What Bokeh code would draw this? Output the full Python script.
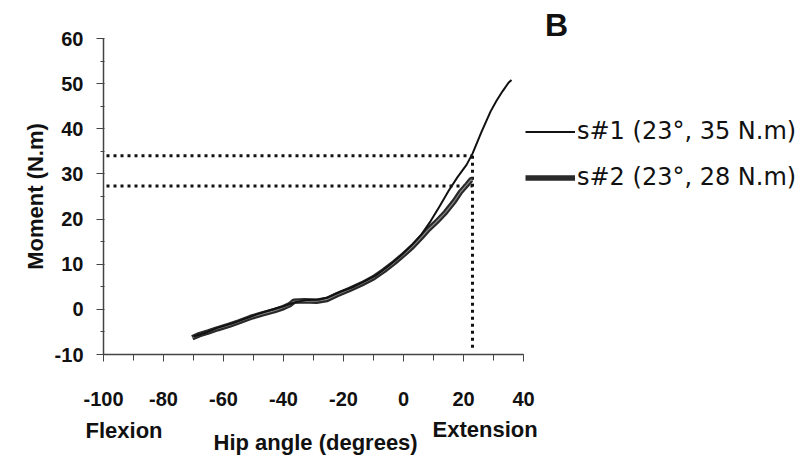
from bokeh.plotting import figure
from bokeh.models import (Range1d, SingleIntervalTicker, Label, Legend, LegendItem, LinearAxis,
                          PrintfTickFormatter)
from bokeh.embed import file_html
from bokeh.resources import INLINE

# ---- data ----
s1_angle = [-70, -66, -62, -57, -52, -48, -44, -40, -36, -32, -28, -25, -21, -17,
            -13, -9, -5, -1, 3, 6, 9, 12, 15, 18, 21, 23, 26, 29, 31, 33, 35, 36]
s1_moment = [-6.0, -5.2, -4.1, -3.1, -1.9, -0.9, -0.1, 0.7, 1.6, 2.1, 2.2, 2.7, 3.9, 4.9,
             6.2, 7.6, 9.6, 11.8, 14.4, 16.6, 19.5, 22.8, 26.2, 29.3, 32.0, 34.5, 39.3,
             43.8, 46.2, 48.3, 50.2, 50.8]

s2_angle = [-70.4, -68, -65, -62, -58, -55, -51, -47, -43, -40, -38, -36.5, -33, -29,
            -25.5, -22, -18, -14, -10, -6.5, -3, 0, 3, 6, 8, 11, 14, 17, 19, 21, 22.5, 23]
s2_moment = [-6.3, -5.6, -5.0, -4.3, -3.5, -2.8, -1.8, -1.0, -0.3, 0.4, 1.0, 1.8, 1.9, 1.8,
             2.2, 3.3, 4.4, 5.6, 7.0, 8.6, 10.4, 12.1, 13.9, 16.0, 17.5, 19.4, 21.5, 24.0,
             26.0, 27.5, 28.7, 28.5]

crit_angle = 23
crit_moments = [34, 27.3]
series_labels = ["s#1 (23°, 35 N.m)", "s#2 (23°, 28 N.m)"]

x_ticks_range = (-100, 40)
y_ticks_range = (-10, 60)

# ---- figure: the frame fills the whole canvas, axes are pinned in data space ----
W, H = 809, 465
AX_LEFT_PX, AX_TOP_PX = 103, 38           # where x=-100 / y=60 sit on the canvas
px_per_x = 3.0
px_per_y = 316.0 / 70.0
x0 = x_ticks_range[0] - AX_LEFT_PX / px_per_x
x1 = x0 + W / px_per_x
y1 = y_ticks_range[1] + AX_TOP_PX / px_per_y
y0 = y1 - H / px_per_y

p = figure(width=W, height=H, output_backend="svg", toolbar_location=None,
           x_range=Range1d(x0, x1), y_range=Range1d(y0, y1),
           x_axis_location=None, y_axis_location=None,
           min_border=0, min_border_left=0, min_border_right=0,
           min_border_top=0, min_border_bottom=0)
p.outline_line_color = None
p.grid.visible = False
p.background_fill_color = "white"
p.border_fill_color = "white"

tick_font = "Liberation Sans"
ink = "#111111"
axis_ink = "#444444"

xa = LinearAxis(fixed_location=y_ticks_range[0], bounds=x_ticks_range)
xa.ticker = SingleIntervalTicker(interval=20, num_minor_ticks=2)
xa.formatter = PrintfTickFormatter(format="%d")
xa.major_tick_in = 0
xa.major_tick_out = 7
xa.minor_tick_in = 0
xa.minor_tick_out = 6
xa.axis_line_color = axis_ink
xa.axis_line_width = 1.5
xa.major_tick_line_color = axis_ink
xa.minor_tick_line_color = axis_ink
xa.major_label_text_font = tick_font
xa.major_label_text_font_style = "bold"
xa.major_label_text_font_size = "20px"
xa.major_label_text_color = ink
xa.major_label_standoff = 30
p.add_layout(xa, "below")

ya = LinearAxis(fixed_location=x_ticks_range[0], bounds=y_ticks_range)
ya.ticker = SingleIntervalTicker(interval=10, num_minor_ticks=2)
ya.formatter = PrintfTickFormatter(format="%d")
ya.major_tick_in = 0
ya.major_tick_out = 7
ya.minor_tick_in = 1
ya.minor_tick_out = 3
ya.axis_line_color = axis_ink
ya.axis_line_width = 1.5
ya.major_tick_line_color = axis_ink
ya.minor_tick_line_color = axis_ink
ya.major_label_text_font = tick_font
ya.major_label_text_font_style = "bold"
ya.major_label_text_font_size = "20px"
ya.major_label_text_color = ink
ya.major_label_standoff = 13
ya.axis_label = "Moment (N.m)"
ya.axis_label_text_font = "Liberation Sans"
ya.axis_label_text_font_style = "bold"
ya.axis_label_text_font_size = "22px"
ya.axis_label_text_color = ink
ya.axis_label_standoff = 4
p.add_layout(ya, "left")

# dotted reference lines
dot = dict(line_color=ink, line_width=3, line_dash="3 4")
for m in crit_moments:
    p.line([x_ticks_range[0] + 1, crit_angle], [m, m], **dot)
p.line([crit_angle, crit_angle], [max(crit_moments), y_ticks_range[0] + 1.5], **dot)

# curves
r2a = p.line(s2_angle, s2_moment, line_color="#2a2a2a", line_width=5.5, line_join="round")
r2b = p.line(s2_angle, s2_moment, line_color="#8a8a8a", line_width=1.2, line_join="round")
r1 = p.line(s1_angle, s1_moment, line_color=ink, line_width=2, line_join="round")

legend = Legend(items=[LegendItem(label=series_labels[0], renderers=[r1]),
                       LegendItem(label=series_labels[1], renderers=[r2a])],
                location=(525, 274))
legend.label_text_font = "DejaVu Sans"
legend.label_text_font_size = "24px"
legend.label_text_color = ink
legend.glyph_width = 50
legend.glyph_height = 23
legend.label_height = 23
legend.label_standoff = 2
legend.spacing = 18
legend.padding = 0
legend.margin = 0
legend.border_line_color = None
legend.background_fill_alpha = 0
p.add_layout(legend)

lab = dict(text_font="Liberation Sans", text_font_style="bold", text_font_size="22px",
           text_color=ink, text_baseline="middle")
p.add_layout(Label(x=-106, y=-26.8, text="Flexion", text_align="left", **lab))
p.add_layout(Label(x=-29.3, y=-29.4, text="Hip angle (degrees)", text_align="center", **lab))
p.add_layout(Label(x=9.7, y=-26.6, text="Extension", text_align="left", **lab))
p.add_layout(Label(x=51, y=62.9, text="B", text_align="center",
                   text_font="Liberation Sans", text_font_style="bold",
                   text_font_size="32px", text_color=ink, text_baseline="middle"))

open("out.html", "w").write(file_html(p, INLINE))
